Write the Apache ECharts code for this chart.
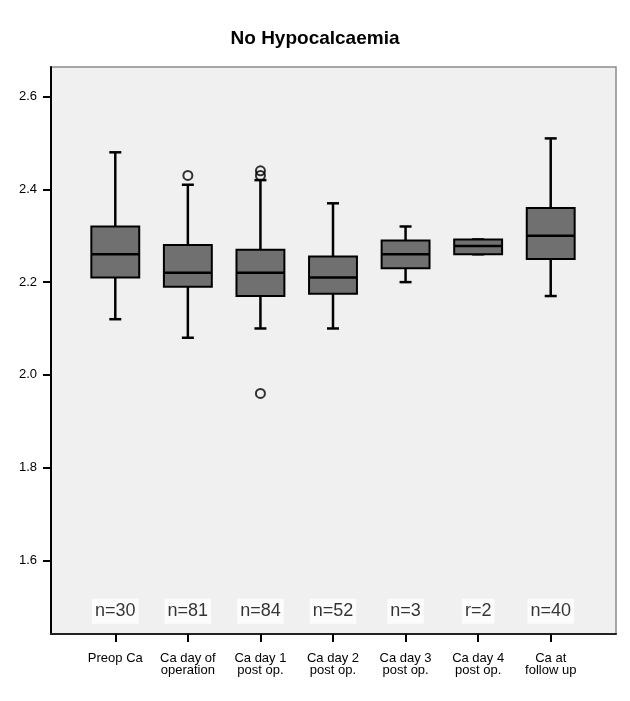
<!DOCTYPE html>
<html>
<head>
<meta charset="utf-8">
<script src="https://cdn.jsdelivr.net/npm/echarts@6/dist/echarts.min.js"></script>
<style>
  html, body { margin: 0; padding: 0; background: #ffffff; }
  #chart { width: 630px; height: 701px; }
</style>
</head>
<body>
<div id="chart"></div>
<script>
// ---- data ----
const categories = ['Preop Ca', 'Ca day of\noperation', 'Ca day 1\npost op.', 'Ca day 2\npost op.', 'Ca day 3\npost op.', 'Ca day 4\npost op.', 'Ca at\nfollow up'];
const lowWhisker  = [2.12, 2.08, 2.10, 2.10, 2.20, 2.26, 2.17];
const q1Values    = [2.21, 2.19, 2.17, 2.175, 2.23, 2.26, 2.25];
const medianValues= [2.26, 2.22, 2.22, 2.21, 2.26, 2.278, 2.30];
const q3Values    = [2.32, 2.28, 2.27, 2.255, 2.29, 2.292, 2.36];
const highWhisker = [2.48, 2.41, 2.42, 2.37, 2.32, 2.292, 2.51];
const outliers    = [[1, 2.43], [2, 2.44], [2, 2.43], [2, 1.96]];
const nLabels     = ['n=30', 'n=81', 'n=84', 'n=52', 'n=3', 'r=2', 'n=40'];
const yTickValues = [1.6, 1.8, 2.0, 2.2, 2.4, 2.6];

const FONT = '"Liberation Sans", Arial, sans-serif';
const Y_MIN = 1.441, Y_MAX = 2.664;
const LABEL_Y = 1.49;

const boxData = categories.map((c, i) => [i, lowWhisker[i], q1Values[i], medianValues[i], q3Values[i], highWhisker[i]]);

function renderBox(params, api) {
  const x = api.value(0);
  const lo = api.coord([x, api.value(1)]);
  const q1 = api.coord([x, api.value(2)]);
  const md = api.coord([x, api.value(3)]);
  const q3 = api.coord([x, api.value(4)]);
  const hi = api.coord([x, api.value(5)]);
  const band = api.size([1, 0])[0];
  const half = band * 0.33;
  const cap = 6;
  const cx = lo[0];
  const ls = { stroke: '#000', lineWidth: 2.5 };
  return {
    type: 'group',
    children: [
      { type: 'line', shape: { x1: cx, y1: q3[1], x2: cx, y2: hi[1] }, style: ls },
      { type: 'line', shape: { x1: cx, y1: q1[1], x2: cx, y2: lo[1] }, style: ls },
      { type: 'line', shape: { x1: cx - cap, y1: hi[1], x2: cx + cap, y2: hi[1] }, style: ls },
      { type: 'line', shape: { x1: cx - cap, y1: lo[1], x2: cx + cap, y2: lo[1] }, style: ls },
      { type: 'rect', shape: { x: cx - half, y: q3[1], width: 2 * half, height: q1[1] - q3[1] },
        style: { fill: '#707070', stroke: '#000', lineWidth: 2 } },
      { type: 'line', shape: { x1: cx - half, y1: md[1], x2: cx + half, y2: md[1] }, style: ls }
    ]
  };
}

const chart = echarts.init(document.getElementById('chart'), null, { renderer: 'canvas' });
chart.setOption({
  backgroundColor: '#ffffff',
  animation: false,
  title: {
    text: 'No Hypocalcaemia',
    left: 'center',
    top: 24,
    textStyle: { fontFamily: FONT, fontSize: 19, fontWeight: 'bold', color: '#000' }
  },
  grid: [
    { left: 51, right: 14, top: 67, bottom: 67, show: true, backgroundColor: '#f0f0f0', borderColor: '#8c8c8c', borderWidth: 1.5 },
    { left: 79, right: 43, top: 67, bottom: 67 }
  ],
  xAxis: [
    { gridIndex: 0, type: 'value', min: 0, max: 1, show: true,
      axisLine: { show: true, lineStyle: { color: '#222', width: 2 } },
      axisTick: { show: false }, axisLabel: { show: false }, splitLine: { show: false } },
    { gridIndex: 1, type: 'category', data: categories,
      axisLine: { show: false },
      axisTick: { show: true, alignWithLabel: true, length: 8, lineStyle: { color: '#000', width: 2 } },
      axisLabel: { interval: 0, margin: 18, fontFamily: FONT, fontSize: 13, lineHeight: 12, color: '#000' },
      splitLine: { show: false } }
  ],
  yAxis: [
    { gridIndex: 0, type: 'value', min: Y_MIN, max: Y_MAX,
      axisLine: { show: true, lineStyle: { color: '#000', width: 2 } },
      axisTick: { show: true, length: 8, customValues: yTickValues, lineStyle: { color: '#000', width: 2 } },
      axisLabel: { customValues: yTickValues, margin: 14, fontFamily: FONT, fontSize: 13, color: '#000',
        formatter: v => Number(v).toFixed(1) },
      splitLine: { show: false } },
    { gridIndex: 1, type: 'value', min: Y_MIN, max: Y_MAX, show: false, splitLine: { show: false } }
  ],
  series: [
    { type: 'custom', xAxisIndex: 1, yAxisIndex: 1, renderItem: renderBox, data: boxData, z: 3 },
    { type: 'scatter', xAxisIndex: 1, yAxisIndex: 1, data: outliers, symbol: 'circle', symbolSize: 9,
      itemStyle: { color: 'rgba(0,0,0,0)', borderColor: '#000', borderWidth: 2 }, z: 4 },
    { type: 'scatter', xAxisIndex: 1, yAxisIndex: 1, symbolSize: 0, z: 5,
      data: nLabels.map((t, i) => [i, LABEL_Y]),
      label: { show: true, position: 'inside', formatter: p => nLabels[p.dataIndex],
        fontFamily: FONT, fontSize: 18, color: '#000', backgroundColor: '#ffffff', padding: [4, 3, 3, 3] } }
  ]
});
</script>
</body>
</html>
